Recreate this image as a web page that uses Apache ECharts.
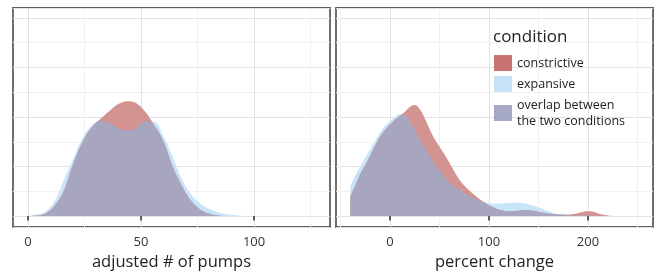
<!DOCTYPE html>
<html>
<head>
<meta charset="utf-8">
<script src="https://cdn.jsdelivr.net/npm/echarts@6/dist/echarts.min.js"></script>
<style>
  html,body{margin:0;padding:0;background:#fff;}
  #main{width:660px;height:276px;}
</style>
</head>
<body>
<div id="main"></div>
<script>
// density curves (arbitrary density units, same for both panels)
var pumpsX = [0,4,8,12,16,20,24,28,32,36,40,44,48,52,56,60,64,68,72,76,80,84,88,92,96];
var pumpsExpansive = [0,0.03,0.1,0.32,0.74,1.15,1.56,1.82,1.92,1.88,1.78,1.72,1.78,1.92,1.9,1.6,1.2,0.76,0.45,0.26,0.15,0.08,0.04,0.015,0];
var pumpsConstrictive = [0,0.01,0.06,0.22,0.52,1.05,1.48,1.78,1.96,2.12,2.26,2.32,2.28,2.1,1.82,1.5,1.0,0.62,0.32,0.14,0.05,0.01,0,0,0];
var pumpsTicks = [0, 50, 100];

var pctX = [-40,-35,-30,-25,-20,-15,-10,-5,0,5,10,15,20,25,30,35,40,45,50,55,60,65,70,75,80,85,90,95,100,105,110,115,120,125,130,135,140,145,150,155,160,165,170,175,180,185,190,195,200,205,210,215,220,225];
var pctExpansive = [0.6,0.82,1.0,1.18,1.35,1.52,1.68,1.82,1.92,2.0,2.06,2.04,1.92,1.75,1.56,1.4,1.22,1.05,0.92,0.8,0.68,0.6,0.53,0.47,0.41,0.36,0.32,0.29,0.26,0.25,0.25,0.26,0.27,0.27,0.27,0.26,0.24,0.21,0.18,0.14,0.1,0.07,0.04,0.025,0.015,0.01,0.01,0.01,0.01,0.005,0,0,0,0];
var pctConstrictive = [0.4,0.62,0.85,1.03,1.22,1.42,1.6,1.74,1.85,1.94,2.02,2.1,2.2,2.24,2.16,1.98,1.76,1.56,1.4,1.25,1.08,0.9,0.74,0.62,0.52,0.43,0.35,0.28,0.22,0.17,0.13,0.11,0.1,0.1,0.11,0.12,0.12,0.11,0.09,0.07,0.05,0.04,0.03,0.03,0.03,0.04,0.06,0.09,0.1,0.09,0.06,0.03,0.01,0];
var pctTicks = [0, 100, 200];

var xNames = ['adjusted # of pumps', 'percent change'];
var legendNames = ['constrictive', 'expansive', 'overlap between\nthe two conditions'];

var cRed = '#d39391', cBlue = '#c8e4f8', cOver = '#a8a6bf';

function pairs(xs, ys){
    var out = [];
    for (var i = 0; i < xs.length; i++) out.push([xs[i], ys[i]]);
    return out;
}
function overlap(xs, a, b){
    var out = [];
    for (var i = 0; i < xs.length; i++) out.push([xs[i], Math.min(a[i], b[i])]);
    return out;
}
function area(name, idx, data, color, z){
    return {
        name: name, type: 'line', xAxisIndex: idx, yAxisIndex: idx,
        data: data, smooth: 0.4, symbol: 'none', z: z,
        lineStyle: {width: 0}, itemStyle: {color: color},
        areaStyle: {color: color, opacity: 1}, silent: true
    };
}
function xAx(idx, min, max, name, ticks){
    return {
        type: 'value', gridIndex: idx, min: min, max: max, splitNumber: 3,
        name: name, nameLocation: 'middle', nameGap: 27,
        nameTextStyle: {fontFamily: 'Open Sans', fontSize: 16.5, color: '#222'},
        axisLine: {show: false},
        axisTick: {show: true, length: 4.5, customValues: ticks, lineStyle: {color: '#333', width: 1.5}},
        axisLabel: {fontFamily: 'Open Sans', fontSize: 13, color: '#333', margin: 8.5, customValues: ticks},
        splitLine: {show: true, lineStyle: {color: '#e2e2e2', width: 1}},
        minorTick: {show: false, splitNumber: 2},
        minorSplitLine: {show: true, lineStyle: {color: '#f1f1f1', width: 1}}
    };
}
function yAx(idx){
    return {
        type: 'value', gridIndex: idx, min: -0.22, max: 4.2, splitNumber: 4,
        axisLine: {show: false}, axisTick: {show: false}, axisLabel: {show: false},
        splitLine: {show: true, lineStyle: {color: '#e2e2e2', width: 1}},
        minorTick: {show: false, splitNumber: 2},
        minorSplitLine: {show: true, lineStyle: {color: '#f1f1f1', width: 1}}
    };
}

var chart = echarts.init(document.getElementById('main'));
chart.setOption({
    animation: false,
    backgroundColor: '#fff',
    title: {
        text: 'condition', left: 488, top: 24,
        textStyle: {fontFamily: 'Open Sans', fontSize: 17, fontWeight: 'normal', color: '#222'}
    },
    legend: {
        orient: 'vertical', left: 489, top: 50, itemWidth: 18, itemHeight: 16, itemGap: 5,
        icon: 'rect', selectedMode: false, itemTextGap: 8,
        textStyle: {fontFamily: 'Open Sans', fontSize: 12.5, color: '#222', lineHeight: 16},
        data: [
            {name: legendNames[0], itemStyle: {color: '#c97374'}},
            {name: legendNames[1], itemStyle: {color: '#c6e3f7'}},
            {name: legendNames[2], itemStyle: {color: '#a6a9c3'}}
        ]
    },
    grid: [
        {left: 13, top: 8, width: 317, height: 221, show: true, borderColor: '#5f5f5f', borderWidth: 1.8, backgroundColor: 'transparent'},
        {left: 336, top: 8, width: 317, height: 221, show: true, borderColor: '#5f5f5f', borderWidth: 1.8, backgroundColor: 'transparent'}
    ],
    xAxis: [xAx(0, -6.6, 133.6, xNames[0], pumpsTicks), xAx(1, -54.5, 265.7, xNames[1], pctTicks)],
    yAxis: [yAx(0), yAx(1)],
    series: [
        area(legendNames[1], 0, pairs(pumpsX, pumpsExpansive), cBlue, 2),
        area(legendNames[0], 0, pairs(pumpsX, pumpsConstrictive), cRed, 3),
        area(legendNames[2], 0, overlap(pumpsX, pumpsExpansive, pumpsConstrictive), cOver, 4),
        area(legendNames[1], 1, pairs(pctX, pctExpansive), cBlue, 2),
        area(legendNames[0], 1, pairs(pctX, pctConstrictive), cRed, 3),
        area(legendNames[2], 1, overlap(pctX, pctExpansive, pctConstrictive), cOver, 4)
    ]
});
</script>
</body>
</html>
